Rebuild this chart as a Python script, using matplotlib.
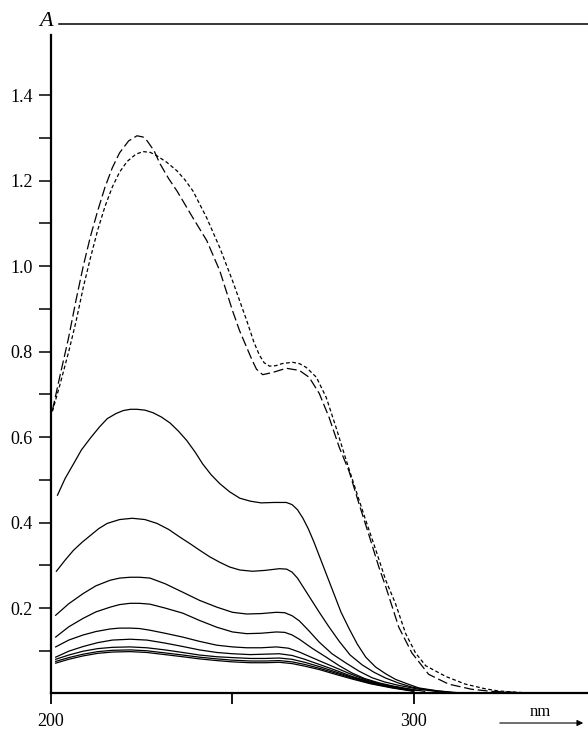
import matplotlib
matplotlib.use('Agg')
import matplotlib.pyplot as plt
from matplotlib.ticker import FixedLocator

plt.rcParams['font.family'] = ['Liberation Serif', 'DejaVu Serif']

# long-dash spectrum
ld_nm = [200.5, 202.5, 204.9, 207.0, 209.0, 211.0, 213.0, 215.0, 217.0, 219.0, 221.5, 223.8,
         225.5, 226.6, 228.5, 230.1, 232.5, 234.8, 239.2, 243.0, 246.6, 250.1, 252.0, 254.0,
         255.5, 256.7, 258.4, 261.1, 264.9, 268.5, 271.2, 274.0, 276.7, 279.5, 282.2, 284.9,
         287.7, 290.4, 292.3, 295.9, 299.5, 304.1, 309.6, 315.9, 321.4, 330.0]
ld_a = [0.662, 0.74, 0.83, 0.92, 1.000, 1.070, 1.130, 1.185, 1.230, 1.265, 1.293, 1.305,
        1.302, 1.293, 1.270, 1.240, 1.205, 1.176, 1.113, 1.060, 0.989, 0.896, 0.850, 0.810,
        0.780, 0.759, 0.746, 0.751, 0.761, 0.756, 0.740, 0.702, 0.646, 0.576, 0.520, 0.445,
        0.370, 0.296, 0.250, 0.155, 0.095, 0.045, 0.022, 0.010, 0.005, 0.002]

# short-dash spectrum
sd_nm = [200.5, 202.5, 205.0, 207.0, 209.0, 211.0, 213.0, 215.0, 217.0, 219.0, 221.1, 223.5,
         225.5, 227.5, 229.3, 232.0, 234.8, 237.0, 239.2, 243.0, 246.6, 250.1, 254.0, 256.0,
         257.5, 258.8, 260.3, 262.0, 263.8, 266.6, 268.5, 270.4, 273.2, 275.9, 278.6, 281.4,
         284.1, 286.8, 289.6, 292.3, 295.0, 297.8, 300.5, 303.3, 308.8, 314.2, 319.7, 323.3,
         330.0]
sd_a = [0.66, 0.72, 0.80, 0.87, 0.950, 1.020, 1.085, 1.140, 1.185, 1.220, 1.245, 1.262,
        1.268, 1.266, 1.258, 1.243, 1.223, 1.202, 1.176, 1.113, 1.043, 0.966, 0.873, 0.822,
        0.792, 0.774, 0.766, 0.767, 0.772, 0.775, 0.772, 0.763, 0.740, 0.693, 0.623, 0.546,
        0.475, 0.405, 0.335, 0.265, 0.210, 0.140, 0.095, 0.065, 0.040, 0.022, 0.011, 0.006,
        0.002]

# solid spectra
s1_nm = [201.9, 204.0, 206.3, 208.5, 211.0, 213.5, 215.6, 218.0, 220.0, 222.0, 223.8, 226.0,
         228.2, 230.5, 232.9, 235.2, 237.5, 239.8, 241.9, 244.2, 246.6, 249.3, 252.1, 255.0,
         258.0, 261.5, 264.9, 266.5, 268.0, 269.5, 271.0, 272.5, 274.0, 276.0, 278.0, 280.0,
         282.2, 284.5, 286.8, 289.5, 292.3, 295.0, 297.8, 301.4, 306.8, 312.0]
s1_a = [0.464, 0.503, 0.537, 0.570, 0.598, 0.624, 0.643, 0.655, 0.662, 0.665, 0.665, 0.663,
        0.657, 0.647, 0.633, 0.614, 0.592, 0.565, 0.537, 0.512, 0.491, 0.472, 0.457, 0.450,
        0.446, 0.447, 0.447, 0.442, 0.430, 0.410, 0.385, 0.355, 0.322, 0.278, 0.234, 0.190,
        0.152, 0.115, 0.085, 0.062, 0.046, 0.033, 0.024, 0.013, 0.006, 0.002]

s2_nm = [201.6, 204.0, 206.3, 208.7, 211.0, 213.3, 215.6, 219.0, 222.5, 226.0, 229.3, 232.5,
         235.6, 238.5, 241.1, 243.8, 246.6, 249.3, 252.1, 255.6, 259.0, 263.0, 265.0, 266.5,
         268.0, 269.5, 271.0, 272.5, 274.0, 276.5, 279.5, 282.5, 285.8, 289.0, 292.3, 296.0,
         299.5, 304.1, 310.0]
s2_a = [0.286, 0.312, 0.335, 0.354, 0.370, 0.386, 0.398, 0.407, 0.410, 0.407, 0.398, 0.384,
        0.366, 0.350, 0.335, 0.320, 0.307, 0.296, 0.289, 0.286, 0.288, 0.292, 0.291, 0.284,
        0.270, 0.250, 0.230, 0.210, 0.190, 0.158, 0.122, 0.090, 0.067, 0.050, 0.036, 0.024,
        0.015, 0.008, 0.003]

s3_nm = [201.4, 205.0, 209.0, 212.5, 216.4, 219.0, 221.9, 224.5, 227.4, 231.5, 236.4, 241.0,
         245.8, 250.1, 254.0, 258.0, 262.2, 264.5, 266.5, 268.5, 271.0, 274.0, 277.5, 281.4,
         285.0, 288.5, 292.0, 295.9, 301.4, 307.0]
s3_a = [0.183, 0.210, 0.234, 0.252, 0.265, 0.270, 0.272, 0.272, 0.270, 0.257, 0.237, 0.218,
        0.202, 0.190, 0.186, 0.187, 0.190, 0.189, 0.182, 0.170, 0.148, 0.120, 0.093, 0.071,
        0.052, 0.037, 0.027, 0.019, 0.010, 0.004]

s4_nm = [201.4, 205.0, 209.0, 212.5, 216.4, 219.0, 221.9, 224.5, 227.4, 231.5, 236.4, 241.0,
         245.8, 250.1, 254.0, 258.0, 262.2, 264.5, 266.5, 268.5, 272.0, 275.9, 279.5, 283.0,
         286.5, 290.4, 294.0, 297.8, 303.0]
s4_a = [0.132, 0.156, 0.176, 0.191, 0.202, 0.208, 0.211, 0.211, 0.209, 0.200, 0.188, 0.171,
        0.155, 0.144, 0.140, 0.141, 0.144, 0.143, 0.137, 0.127, 0.106, 0.085, 0.065, 0.048,
        0.035, 0.025, 0.018, 0.012, 0.005]

s5_nm = [201.4, 205.0, 209.0, 212.5, 216.4, 219.0, 221.9, 224.5, 227.4, 231.5, 236.4, 241.0,
         245.8, 250.1, 254.0, 258.0, 262.2, 265.5, 268.5, 272.0, 275.0, 278.6, 282.5, 286.8,
         291.0, 295.9, 301.0]
s5_a = [0.109, 0.125, 0.137, 0.145, 0.151, 0.153, 0.153, 0.152, 0.148, 0.141, 0.132, 0.122,
        0.113, 0.109, 0.107, 0.107, 0.109, 0.106, 0.097, 0.084, 0.073, 0.060, 0.046, 0.032,
        0.022, 0.014, 0.007]

low_nm = [201.4, 205.0, 209.0, 213.0, 217.0, 221.9, 226.5, 231.5, 236.4, 241.0, 245.8, 250.1,
          255.0, 259.0, 263.0, 266.5, 270.0, 274.0, 278.0, 283.0, 288.0, 294.0, 300.0]
s6_a = [0.085, 0.099, 0.110, 0.119, 0.125, 0.127, 0.125, 0.118, 0.110, 0.102, 0.096, 0.093,
        0.091, 0.092, 0.093, 0.089, 0.080, 0.068, 0.056, 0.040, 0.027, 0.015, 0.006]
s7_a = [0.080, 0.090, 0.099, 0.105, 0.108, 0.109, 0.107, 0.102, 0.096, 0.090, 0.086, 0.084,
        0.082, 0.082, 0.083, 0.080, 0.073, 0.063, 0.052, 0.038, 0.026, 0.015, 0.006]
s8_a = [0.075, 0.084, 0.092, 0.098, 0.101, 0.102, 0.100, 0.095, 0.090, 0.085, 0.081, 0.078,
        0.076, 0.076, 0.077, 0.074, 0.068, 0.059, 0.049, 0.036, 0.024, 0.014, 0.006]
s9_a = [0.071, 0.080, 0.088, 0.094, 0.097, 0.098, 0.096, 0.091, 0.086, 0.081, 0.077, 0.074,
        0.072, 0.072, 0.073, 0.070, 0.064, 0.056, 0.046, 0.034, 0.023, 0.013, 0.005]

y_major = [0.2, 0.4, 0.6, 0.8, 1.0, 1.2, 1.4]
y_minor = [0.1, 0.3, 0.5, 0.7, 0.9, 1.1, 1.3]
x_ticks = [200, 250, 300]
x_labels = ['200', '', '300']

fig = plt.figure(figsize=(5.88, 7.29), dpi=100)
ax = fig.add_axes([0.086, 0.0487, 0.914, 0.938])

solids = [(s1_nm, s1_a), (s2_nm, s2_a), (s3_nm, s3_a), (s4_nm, s4_a), (s5_nm, s5_a),
          (low_nm, s6_a), (low_nm, s7_a), (low_nm, s8_a), (low_nm, s9_a)]
for xs, ys in solids:
    ax.plot(xs, ys, color='k', lw=0.9)

ax.plot(ld_nm, ld_a, color='k', lw=0.9, linestyle=(0, (8, 3)))
ax.plot(sd_nm, sd_a, color='k', lw=0.9, linestyle=(0, (3, 2)))

ax.set_xlim(200, 348)
ax.set_ylim(0, 1.6)

for s in ['top', 'right']:
    ax.spines[s].set_visible(False)
ax.spines['left'].set_bounds(0, 1.54)
ax.spines['left'].set_linewidth(1.6)
ax.spines['bottom'].set_linewidth(1.6)

ax.yaxis.set_major_locator(FixedLocator(y_major))
ax.yaxis.set_minor_locator(FixedLocator(y_minor))
ax.set_yticklabels([f'{v:.1f}' for v in y_major])
ax.set_xticks(x_ticks)
ax.set_xticklabels(x_labels)
ax.tick_params(axis='y', which='both', direction='out', length=9, width=1.1, pad=4, labelsize=13)
ax.tick_params(axis='x', direction='out', length=8, width=1.3, pad=6, labelsize=13)

# top reference line with the "A" label
ax.plot([202.2, 348], [1.567, 1.567], color='k', lw=1.1, clip_on=False)
ax.text(198.7, 1.572, 'A', ha='center', va='center', fontsize=16, style='italic', clip_on=False)

fig.text(540 / 588, 1 - 712 / 729, 'nm', ha='center', va='center', fontsize=12)
ax.annotate('', xy=(586 / 588, 1 - 723 / 729), xytext=(497 / 588, 1 - 723 / 729),
            xycoords='figure fraction', textcoords='figure fraction',
            arrowprops=dict(arrowstyle='-|>', lw=0.8, color='k', mutation_scale=9))

fig.savefig('out.png', dpi=100)
